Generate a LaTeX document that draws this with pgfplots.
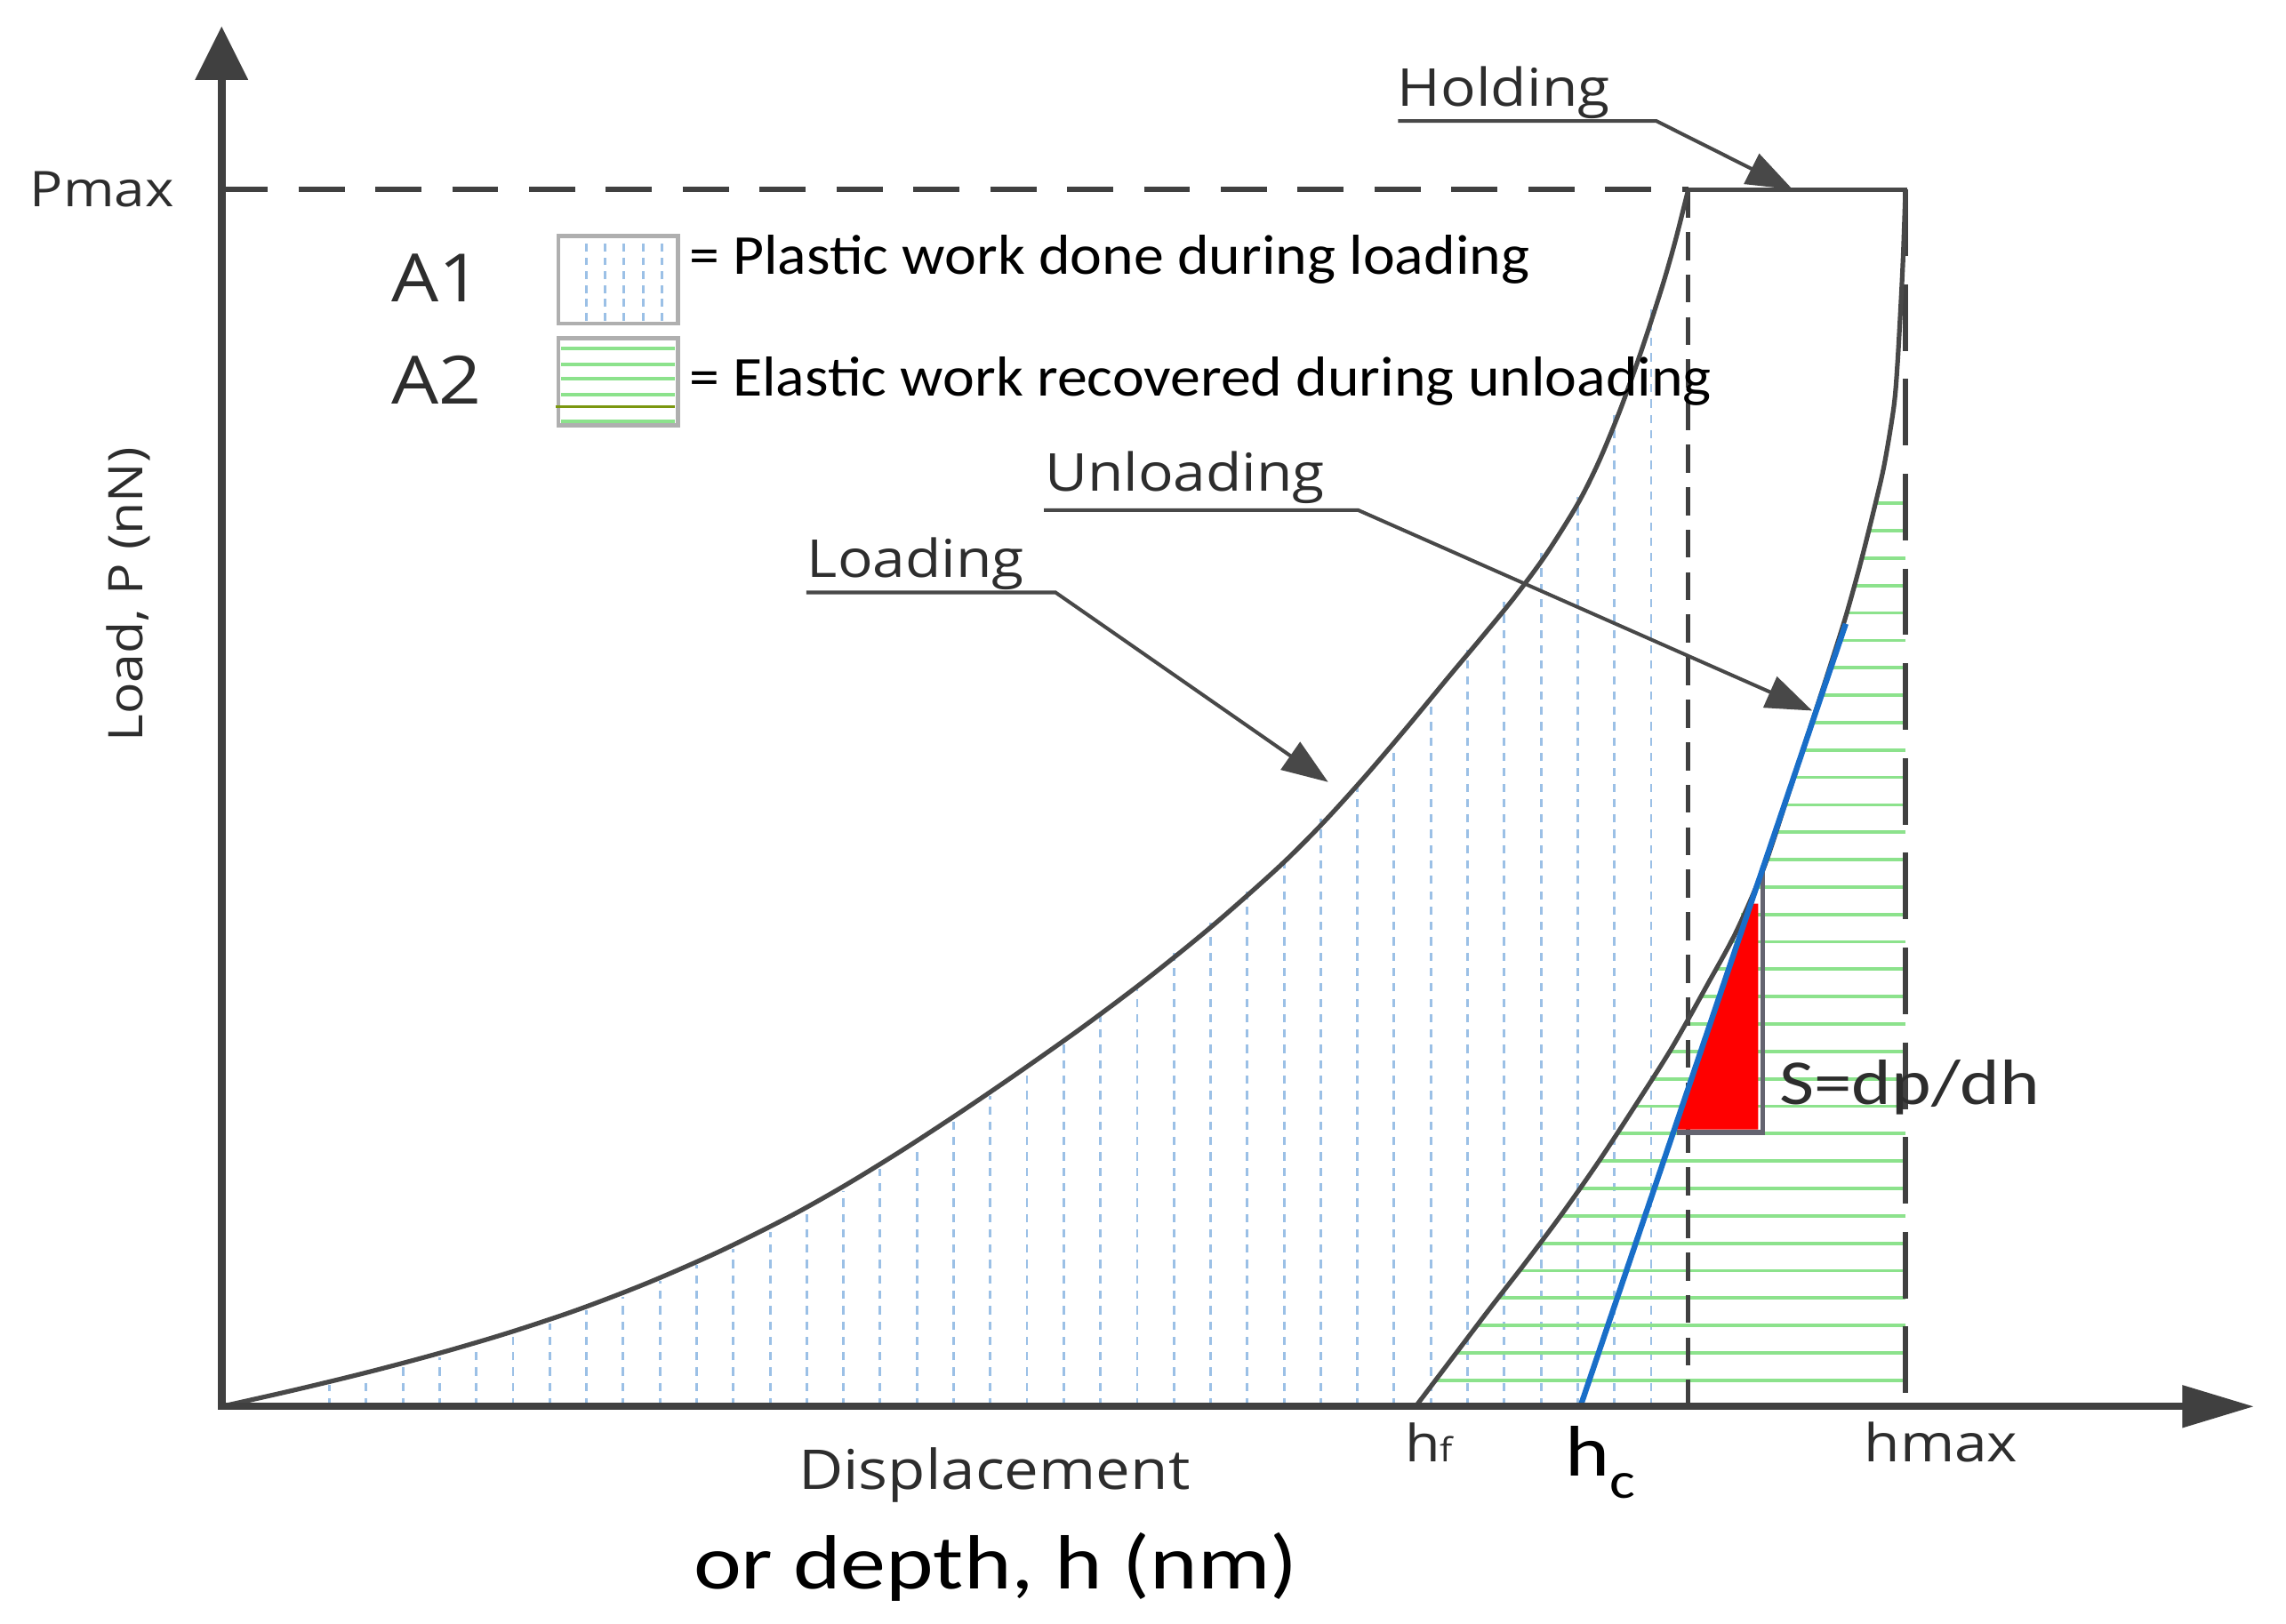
\documentclass[border=0pt]{standalone}
\usepackage{fontspec}
\usepackage{pgfplots}
\usepackage{pgfplotstable}
\pgfplotsset{compat=1.18}
\usetikzlibrary{arrows.meta}
\newfontfamily\labfont[FakeStretch=1.12]{Open Sans}
\newfontfamily\labrfont[FakeStretch=1.1]{Open Sans}
\newfontfamily\calfont[FakeStretch=1.07]{Carlito}
\newfontfamily\calwfont[FakeStretch=1.18]{Carlito}
\definecolor{axgray}{RGB}{64,64,64}
\definecolor{curvegray}{RGB}{72,72,72}
\definecolor{labgray}{RGB}{45,45,45}
\definecolor{hatchblue}{RGB}{155,192,230}
\definecolor{hatchgreen}{RGB}{140,226,140}
\definecolor{tanblue}{RGB}{25,110,200}
\definecolor{boxgray}{RGB}{175,175,175}
\definecolor{trigray}{RGB}{100,100,112}

\pgfplotstableread{
x y
0 0
48.75 11.0
97.5 22.8
146.25 35.7
195 50
243.5 66.1
292 84.7
340.5 105.9
389 130
428 151.9
467 175.9
506 201.4
545 228
590 259.8
635 293.6
680 330.1
725 370
754.25 399.1
783.5 431.3
812.75 465.6
842 501
864 527.3
886 554.2
908 583.9
930 619
944.5 647.9
959 683
973.5 723.4
988 768
997 799.3
1006 835
}\loading

\pgfplotstableread{
x y
819 0
844 33
869 66
894.5 98.9
920 133
945 168.75
970 207
995 246.5
1020 291
1039 326
1058 370
1074.5 419.6
1091 470
1102.5 505.5
1114 542
1124 578
1134 618
1140.5 646.5
1147 686
1149.5 715.5
1152 760
1153.5 791.9
1155 835
}\unloading

\pgfplotstableread{
x y
74 15
99.2 21
124.4 27
149.5 34
174.7 41
199.9 49
225.1 57
250.3 66
275.4 75
300.6 86
325.8 97
351 108
376.2 120
401.3 134
426.5 148
451.7 163
476.9 179
502.1 196
527.2 213
552.4 231
577.6 250
602.8 269
628 290
653.1 311
678.3 332
703.5 355
728.7 378
753.9 403
779 430
804.2 457
829.4 487
854.6 519
879.8 552
905 587
930.1 624
955.3 680
980.5 753
}\hatchA

\pgfplotstableread{
x y
832.6 18
1155 18
nan nan
846.9 36.8
1155 36.8
nan nan
861.1 55.6
1155 55.6
nan nan
875.4 74.4
1155 74.4
nan nan
889.7 93.2
1155 93.2
nan nan
904 112
1155 112
nan nan
918.3 130.8
1155 130.8
nan nan
931.2 149.6
1155 149.6
nan nan
943.9 168.4
1155 168.4
nan nan
956.6 187.2
1155 187.2
nan nan
969.3 206
1155 206
nan nan
981.1 224.8
1155 224.8
nan nan
992.9 243.6
1155 243.6
nan nan
1004.6 262.4
1155 262.4
nan nan
1014.7 281.2
1155 281.2
nan nan
1024.3 300
1155 300
nan nan
1033.4 318.8
1155 318.8
nan nan
1042.4 337.6
1155 337.6
nan nan
1051.5 356.4
1155 356.4
nan nan
1059.8 375.2
1155 375.2
nan nan
1066.3 394
1155 394
nan nan
1072.7 412.8
1155 412.8
nan nan
1079.2 431.6
1155 431.6
nan nan
1085.6 450.4
1155 450.4
nan nan
1092 469.2
1155 469.2
nan nan
1097.8 488
1155 488
nan nan
1103.7 506.8
1155 506.8
nan nan
1109.5 525.6
1155 525.6
nan nan
1115.1 544.4
1155 544.4
nan nan
1120 563.2
1155 563.2
nan nan
1124.8 582
1155 582
nan nan
1129.6 600.8
1155 600.8
nan nan
1134.4 619.6
1155 619.6
}\hatchB

\begin{document}
\begin{tikzpicture}
\begin{axis}[
  width=15.68cm, height=11.14cm, scale only axis,
  xmin=-152, xmax=1416, ymin=-149, ymax=965,
  hide axis, clip=false,
]
\path (rel axis cs:0,0) rectangle (rel axis cs:1,1);

% hatching A1 (plastic work)
\addplot[ycomb, no marks, hatchblue, line width=0.5pt, dash pattern=on 1.6pt off 1.4pt] table {\hatchA};
% hatching A2 (elastic work)
\addplot[no marks, hatchgreen, line width=0.65pt, unbounded coords=jump] table {\hatchB};

% Pmax dashed line and holding segment
\addplot[no marks, axgray, line width=1pt, dash pattern=on 9pt off 6pt] coordinates {(0,835) (1006,835)};
\addplot[no marks, curvegray, line width=0.85pt] coordinates {(1006,835) (1156,835)};
% dashed verticals
\addplot[no marks, axgray, line width=0.9pt, dash pattern=on 5.5pt off 2.8pt] coordinates {(1006,835) (1006,0)};
\addplot[no marks, axgray, line width=1.1pt, dash pattern=on 13pt off 5.5pt] coordinates {(1155,835) (1155,0)};

% loading and unloading curves
\addplot[smooth, no marks, curvegray, line width=0.9pt] table {\loading};
\addplot[smooth, no marks, curvegray, line width=0.9pt] table {\unloading};

% stiffness triangle
\addplot[fill=red, draw=none] coordinates {(998,190) (1049,345) (1054,345) (1054,190)} --cycle;
\addplot[no marks, trigray, line width=1pt] coordinates {(998,188) (1057,188) (1057,371)};
% tangent
\addplot[no marks, tanblue, line width=1.1pt] coordinates {(932,0) (1114,537)};

% axes
\draw[axgray, line width=1.5pt, -{Triangle[length=10.5pt,width=10pt]}] (axis cs:0,-2) -- (axis cs:0,947);
\draw[axgray, line width=1.4pt, -{Triangle[length=14pt,width=8pt]}] (axis cs:-2,0) -- (axis cs:1394,0);

% annotation arrows
\draw[curvegray, line width=0.7pt, -{Triangle[length=9pt,width=6.5pt]}] (axis cs:401,558.5) -- (axis cs:572,558.5) -- (axis cs:759,428.4);
\draw[curvegray, line width=0.7pt, -{Triangle[length=9pt,width=6.5pt]}] (axis cs:564,615) -- (axis cs:779.5,615) -- (axis cs:1091,477.4);
\draw[curvegray, line width=0.7pt, -{Triangle[length=9pt,width=6.5pt]}] (axis cs:807,882) -- (axis cs:984,882) -- (axis cs:1077.6,835);

% legend swatches
\draw[boxgray, line width=0.8pt] (axis cs:231,743) rectangle (axis cs:313,803);
\draw[hatchblue, line width=0.5pt, dash pattern=on 1.5pt off 1.2pt] (axis cs:250,745) -- (axis cs:250,801);
\draw[hatchblue, line width=0.5pt, dash pattern=on 1.5pt off 1.2pt] (axis cs:263,745) -- (axis cs:263,801);
\draw[hatchblue, line width=0.5pt, dash pattern=on 1.5pt off 1.2pt] (axis cs:276,745) -- (axis cs:276,801);
\draw[hatchblue, line width=0.5pt, dash pattern=on 1.5pt off 1.2pt] (axis cs:289,745) -- (axis cs:289,801);
\draw[hatchblue, line width=0.5pt, dash pattern=on 1.5pt off 1.2pt] (axis cs:302,745) -- (axis cs:302,801);
\draw[boxgray, line width=0.8pt] (axis cs:231,673) rectangle (axis cs:313,733);
\draw[hatchgreen, line width=0.7pt] (axis cs:233,726) -- (axis cs:311,726);
\draw[hatchgreen, line width=0.7pt] (axis cs:233,715) -- (axis cs:311,715);
\draw[hatchgreen, line width=0.7pt] (axis cs:233,705) -- (axis cs:311,705);
\draw[hatchgreen, line width=0.7pt] (axis cs:233,694) -- (axis cs:311,694);
\draw[hatchgreen, line width=0.7pt] (axis cs:233,676) -- (axis cs:311,676);
\draw[olive!70!green, line width=0.6pt] (axis cs:229,686) -- (axis cs:311,686);

% texts
\node[anchor=base west, inner sep=0, labgray, font=\labfont\fontsize{10.2}{12}\selectfont] at (axis cs:806,892) {Holding};
\node[anchor=base west, inner sep=0, labgray, font=\labfont\fontsize{10.2}{12}\selectfont] at (axis cs:401,569) {Loading};
\node[anchor=base west, inner sep=0, labgray, font=\labfont\fontsize{10.2}{12}\selectfont] at (axis cs:564,628) {Unloading};
\node[anchor=base west, inner sep=0, labgray, font=\labfont\fontsize{9.6}{12}\selectfont] at (axis cs:-132,823) {Pmax};
\node[anchor=base west, inner sep=0, labgray, font=\labfont\fontsize{13}{15}\selectfont] at (axis cs:116,758) {A1};
\node[anchor=base west, inner sep=0, labgray, font=\labfont\fontsize{13}{15}\selectfont] at (axis cs:116,688) {A2};
\node[anchor=base west, inner sep=0, black, font=\calfont\fontsize{11}{13}\selectfont] at (axis cs:320,777) {= Plastic work done during loading};
\node[anchor=base west, inner sep=0, black, font=\calfont\fontsize{11}{13}\selectfont] at (axis cs:320,693) {= Elastic work recovered during unloading};
\node[anchor=base west, inner sep=0, labgray, font=\calwfont\fontsize{12.5}{14}\selectfont] at (axis cs:1068,207) {S=dp/dh};
\node[anchor=base west, inner sep=0, labgray, font=\labfont\fontsize{10}{12}\selectfont] at (axis cs:811,-38) {h{\fontsize{6.5}{8}\selectfont f}};
\node[anchor=base west, inner sep=0, black, font=\calwfont\fontsize{14}{16}\selectfont] at (axis cs:921,-48) {h\raisebox{-0.3em}{\fontsize{10}{12}\selectfont c}};
\node[anchor=base west, inner sep=0, labgray, font=\labfont\fontsize{10.2}{12}\selectfont] at (axis cs:1126,-38) {hmax};
\node[anchor=base west, inner sep=0, labgray, font=\labfont\fontsize{10.7}{12}\selectfont] at (axis cs:395,-57) {Displacement};
\node[anchor=base west, inner sep=0, black, font=\calwfont\fontsize{15}{18}\selectfont] at (axis cs:323,-125) {or depth, h (nm)};
\node[anchor=center, inner sep=0, rotate=90, labgray, font=\labrfont\fontsize{9.3}{11}\selectfont] at (axis cs:-64,557) {Load, P (nN)};
\end{axis}
\end{tikzpicture}
\end{document}
